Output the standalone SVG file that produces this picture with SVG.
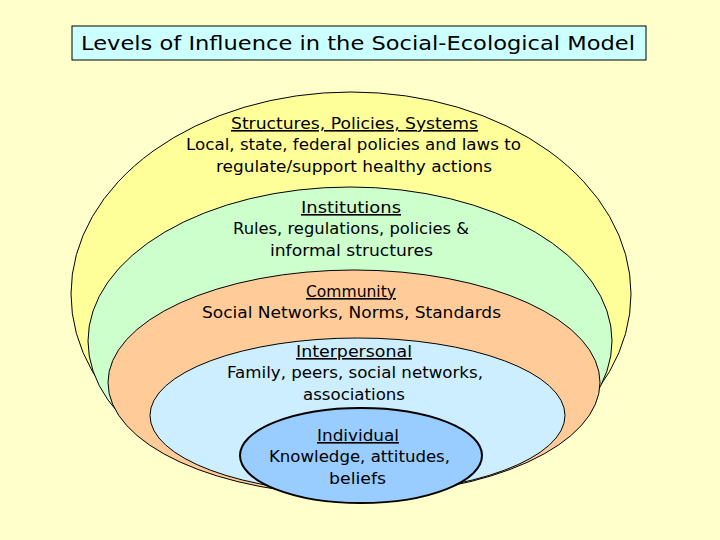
<svg xmlns="http://www.w3.org/2000/svg" width="720" height="540" viewBox="0 0 720 540">
<style>
.lvl{stroke:#000;stroke-width:1}
.t{font-family:"DejaVu Sans","Liberation Sans",sans-serif;font-size:16px;fill:#000;text-anchor:middle}
.h{text-decoration:underline}
</style>
<rect x="0" y="0" width="720" height="540" fill="#ffffcc"/>
<g id="title">
<rect x="72" y="26" width="574" height="34" fill="#ccffff" stroke="#000" stroke-width="1"/>
<text x="358" y="50" font-family="DejaVu Sans, Liberation Sans, sans-serif" font-size="20" text-anchor="middle" textLength="554" lengthAdjust="spacingAndGlyphs">Levels of Influence in the Social-Ecological Model</text>
</g>
<g id="structures">
<ellipse class="lvl" cx="351" cy="294" rx="280" ry="202" fill="#ffff99"/>
<text class="t h" x="354.5" y="129" textLength="247" lengthAdjust="spacingAndGlyphs">Structures, Policies, Systems</text>
<text class="t" x="353.5" y="150" textLength="335" lengthAdjust="spacingAndGlyphs">Local, state, federal policies and laws to</text>
<text class="t" x="354" y="172" textLength="276" lengthAdjust="spacingAndGlyphs">regulate/support healthy actions</text>
</g>
<g id="institutions">
<ellipse class="lvl" cx="350" cy="341" rx="262" ry="154" fill="#ccffcc"/>
<text class="t h" x="351" y="213" textLength="100" lengthAdjust="spacingAndGlyphs">Institutions</text>
<text class="t" x="351" y="234" textLength="236" lengthAdjust="spacingAndGlyphs">Rules, regulations, policies &amp;</text>
<text class="t" x="351.5" y="256" textLength="163" lengthAdjust="spacingAndGlyphs">informal structures</text>
</g>
<g id="community">
<ellipse class="lvl" cx="354" cy="382.5" rx="246" ry="112.5" fill="#ffcc99"/>
<text class="t h" x="351" y="297" textLength="90" lengthAdjust="spacingAndGlyphs">Community</text>
<text class="t" x="351.5" y="318" textLength="299" lengthAdjust="spacingAndGlyphs">Social Networks, Norms, Standards</text>
</g>
<g id="interpersonal">
<ellipse class="lvl" cx="357.5" cy="415.5" rx="207.5" ry="77.5" fill="#cceeff"/>
<text class="t h" x="354" y="357" textLength="116" lengthAdjust="spacingAndGlyphs">Interpersonal</text>
<text class="t" x="355" y="378" textLength="256" lengthAdjust="spacingAndGlyphs">Family, peers, social networks,</text>
<text class="t" x="354" y="400" textLength="102" lengthAdjust="spacingAndGlyphs">associations</text>
</g>
<g id="individual">
<ellipse cx="361" cy="455.5" rx="121" ry="47.5" fill="#99ccff" stroke="#000" stroke-width="2"/>
<text class="t h" x="358" y="441" textLength="82" lengthAdjust="spacingAndGlyphs">Individual</text>
<text class="t" x="359.5" y="462" textLength="181" lengthAdjust="spacingAndGlyphs">Knowledge, attitudes,</text>
<text class="t" x="357.5" y="484" textLength="57" lengthAdjust="spacingAndGlyphs">beliefs</text>
</g>
</svg>
